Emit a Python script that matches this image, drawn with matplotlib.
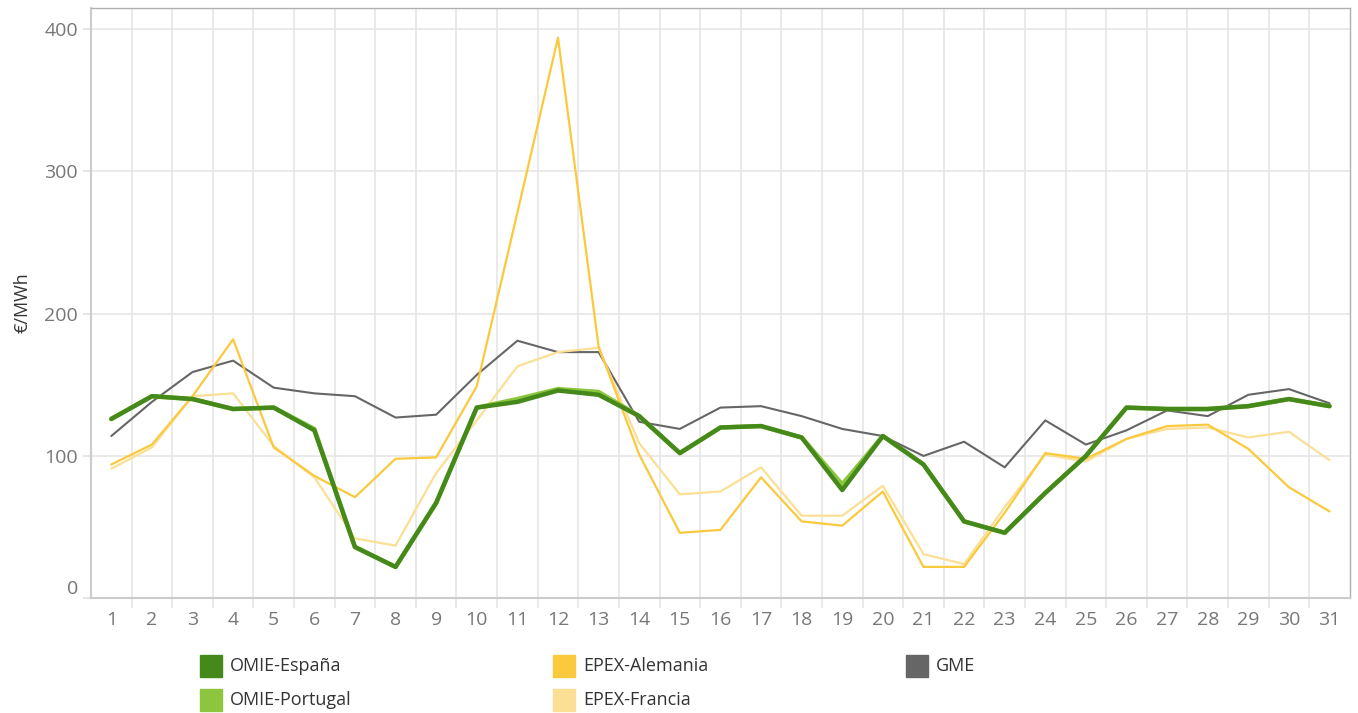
import matplotlib.pyplot as plt
from matplotlib.patches import Rectangle

plt.rcParams['font.family'] = ['Open Sans', 'DejaVu Sans']

dias = list(range(1, 32))

omie_es = [126, 142, 140, 133, 134, 118, 36, 22, 67, 134, 138, 146, 143, 128, 102,
           120, 121, 113, 76, 114, 94, 54, 46, 74, 100, 134, 133, 133, 135, 140, 135]
omie_pt = [126, 142, 140, 133, 134, 119, 36, 22, 67, 134, 140, 147, 145, 128, 102,
           120, 121, 113, 80, 114, 94, 54, 46, 74, 100, 134, 133, 133, 135, 140, 135]
epex_de = [94, 108, 142, 182, 106, 86, 71, 98, 99, 149, 271, 394, 177, 101, 46,
           48, 85, 54, 51, 75, 22, 22, 60, 102, 98, 112, 121, 122, 105, 78, 61]
epex_fr = [91, 106, 142, 144, 107, 85, 42, 37, 88, 125, 163, 173, 176, 109, 73,
           75, 92, 58, 58, 79, 31, 24, 64, 101, 96, 112, 119, 120, 113, 117, 97]
gme = [114, 138, 159, 167, 148, 144, 142, 127, 129, 157, 181, 173, 173, 124, 119,
       134, 135, 128, 119, 114, 100, 110, 92, 125, 108, 118, 132, 128, 143, 147, 137]

series = [
    ('GME', gme, '#666666', 1.5),
    ('EPEX-Francia', epex_fr, '#fbdf95', 1.6),
    ('EPEX-Alemania', epex_de, '#fbc93d', 1.6),
    ('OMIE-Portugal', omie_pt, '#8cc63f', 3.2),
    ('OMIE-España', omie_es, '#45891b', 3.2),
]

fig = plt.figure(figsize=(13.58, 7.13), dpi=100)
ax = fig.add_axes([0.067, 0.161, 0.927, 0.828])

for name, vals, color, lw in series:
    ax.plot(dias, vals, color=color, lw=lw, solid_joinstyle='round',
            solid_capstyle='round', label=name)

ax.set_xlim(0.5, 31.5)
ax.set_ylim(0, 415)
ax.set_xticks(dias)
ax.set_xticks([d + 0.5 for d in dias[:-1]], minor=True)
ax.set_yticks([0, 100, 200, 300, 400])

ax.grid(axis='x', which='minor', color='#e6e6e6', lw=1.2)
ax.grid(axis='y', which='major', color='#e6e6e6', lw=1.2)
ax.set_axisbelow(True)

ax.tick_params(axis='x', which='major', length=0, pad=9, labelsize=14, labelcolor='#777777')
ax.tick_params(axis='x', which='minor', length=7, width=1.2, color='#e6e6e6')
ax.tick_params(axis='y', length=6, width=1.2, color='#e0e0e0', pad=3.5,
               labelsize=14, labelcolor='#777777')
ax.get_yticklabels()[0].set_va('bottom')

for side in ['left', 'bottom']:
    ax.spines[side].set_color('#cccccc')
    ax.spines[side].set_linewidth(1.5)
for side in ['top', 'right']:
    ax.spines[side].set_color('#b0b0b0')
    ax.spines[side].set_linewidth(1.0)

ax.set_ylabel('€/MWh', fontsize=13, color='#333333', labelpad=9)

# leyenda manual en tres columnas
leyenda = [
    ('OMIE-España', '#45891b', 200, 666),
    ('OMIE-Portugal', '#8cc63f', 200, 700),
    ('EPEX-Alemania', '#fbc93d', 553, 666),
    ('EPEX-Francia', '#fbdf95', 553, 700),
    ('GME', '#666666', 906, 666),
]
W, H = 1358, 713
for name, color, px, py in leyenda:
    fig.patches.append(Rectangle((px / W, 1 - (py + 11) / H), 22 / W, 22 / H,
                                 transform=fig.transFigure, color=color))
    fig.text((px + 30) / W, 1 - py / H, name, fontsize=13, color='#333333',
             va='center', ha='left')

fig.savefig('out.png', dpi=100)
